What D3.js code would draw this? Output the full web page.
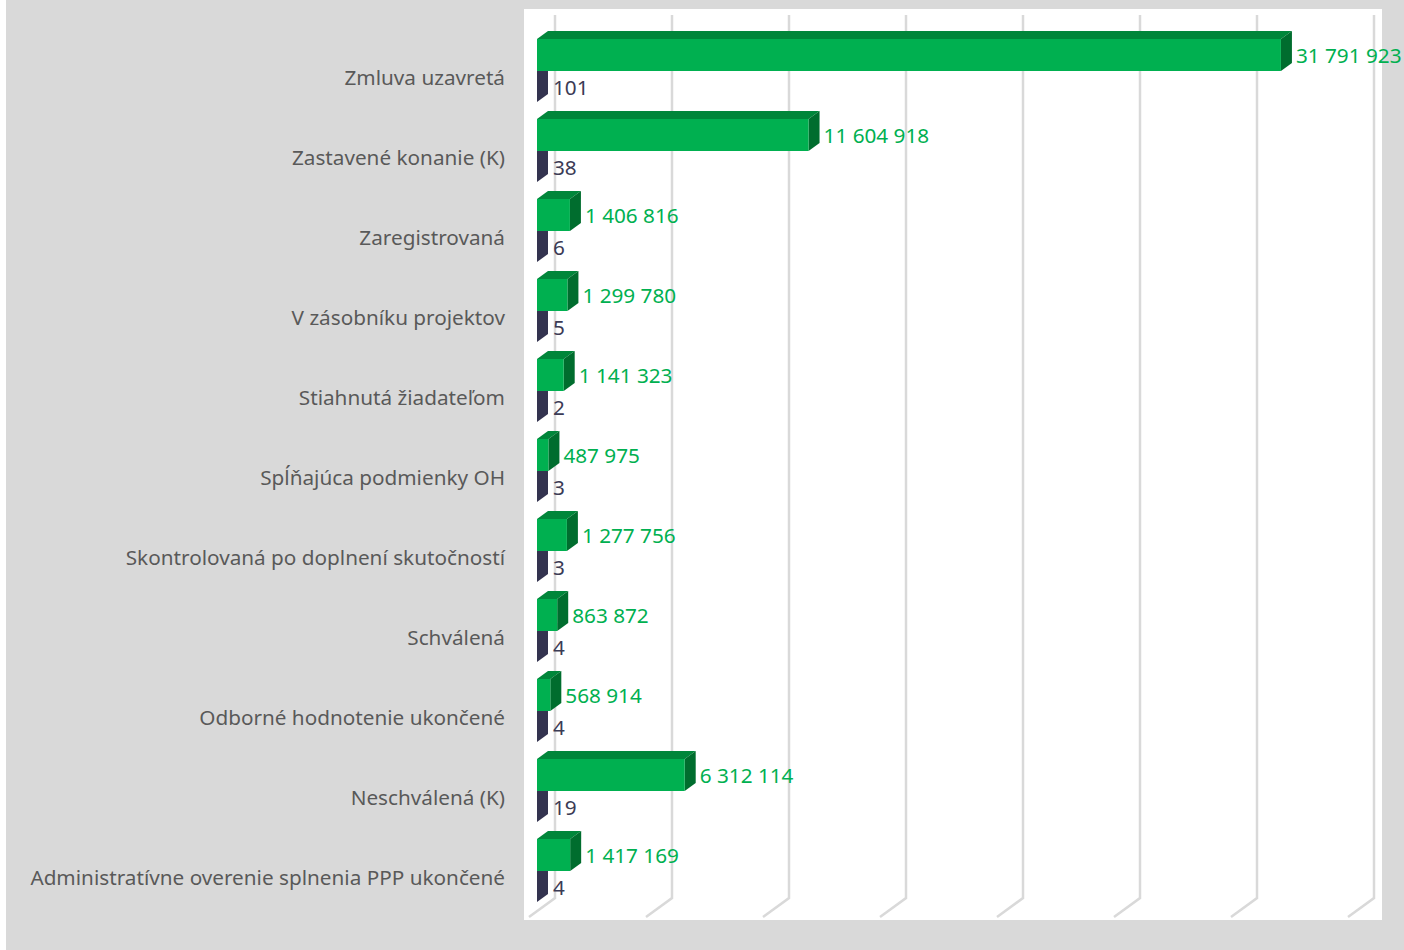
<!DOCTYPE html>
<html>
<head>
<meta charset="utf-8">
<script src="https://cdn.jsdelivr.net/npm/d3@7"></script>
<style>
  html, body { margin: 0; padding: 0; background: #ffffff; }
  svg { display: block; }
</style>
</head>
<body>
<svg id="chart"></svg>
<script>
// data
const categories = [
  "Zmluva uzavretá",
  "Zastavené konanie (K)",
  "Zaregistrovaná",
  "V zásobníku projektov",
  "Stiahnutá žiadateľom",
  "Spĺňajúca podmienky OH",
  "Skontrolovaná po doplnení skutočností",
  "Schválená",
  "Odborné hodnotenie ukončené",
  "Neschválená (K)",
  "Administratívne overenie splnenia PPP ukončené"
]
const amounts = [31791923, 11604918, 1406816, 1299780, 1141323, 487975, 1277756, 863872, 568914, 6312114, 1417169]
const counts = [101, 38, 6, 5, 2, 3, 3, 4, 4, 19, 4]
const gridValues = [0, 5e6, 10e6, 15e6, 20e6, 25e6, 30e6, 35e6]

// sizes
const W = 1404, H = 950
const wallX = 555      // back wall zero
const barX = 537       // bar front zero
const depthX = 11, depthY = 8
const font = "'Noto Sans', 'Open Sans', sans-serif"

const svg = d3.select("#chart").attr("width", W).attr("height", H)

svg.append("rect").attr("x", 0).attr("y", 0).attr("width", W).attr("height", H).attr("fill", "#ffffff")
svg.append("rect").attr("x", 6).attr("y", 0).attr("width", W - 6).attr("height", H).attr("fill", "#d9d9d9")
svg.append("rect").attr("x", 524).attr("y", 9).attr("width", 858).attr("height", 911).attr("fill", "#ffffff")

const x = d3.scaleLinear().domain([0, 35e6]).range([0, 819])
const y = d3.scaleBand().domain(categories).range([38, 918])

const fmt = d3.formatLocale({ decimal: ",", thousands: " ", grouping: [3], currency: ["", ""] }).format(",d")

// grid: back wall + floor
const grid = svg.append("g")
grid.selectAll("path")
  .data(gridValues)
  .join("path")
  .attr("d", d => {
    const gx = wallX + x(d)
    return `M${gx},15 L${gx},898 L${gx - 26},917`
  })
  .attr("fill", "none")
  .attr("stroke", "#d9d9d9")
  .attr("stroke-width", 2.5)

// font size fit to the longest label (Calibri in the original)
const probe = svg.append("text").style("font-family", font).style("font-size", "24px")
  .text(categories[categories.length - 1])
const probeW = probe.node().getComputedTextLength()
probe.remove()
const fs = 24 * 475 / probeW

// navy bars (count)
const navy = svg.append("g")
categories.forEach((c, i) => {
  const cy = y(c) + y.bandwidth() / 2
  const x0 = barX, x1 = barX + x(counts[i])
  const t = cy - 7, b = cy + 24
  // side face
  navy.append("path")
    .attr("d", `M${x1},${t} L${x1 + depthX},${t - depthY} L${x1 + depthX},${b - depthY} L${x1},${b} Z`)
    .attr("fill", "#33334f")
  navy.append("rect").attr("x", x0).attr("y", t).attr("width", x1 - x0).attr("height", b - t).attr("fill", "#3a3a5c")
})

// green bars (amount)
const green = svg.append("g")
categories.forEach((c, i) => {
  const cy = y(c) + y.bandwidth() / 2
  const x0 = barX, x1 = barX + x(amounts[i])
  const t = cy - 39, b = cy - 7
  green.append("path")
    .attr("d", `M${x0},${t} L${x0 + depthX},${t - depthY} L${x1 + depthX},${t - depthY} L${x1},${t} Z`)
    .attr("fill", "#00863a")
  green.append("path")
    .attr("d", `M${x1},${t} L${x1 + depthX},${t - depthY} L${x1 + depthX},${b - depthY} L${x1},${b} Z`)
    .attr("fill", "#006d2e")
  green.append("rect").attr("x", x0).attr("y", t).attr("width", x1 - x0).attr("height", b - t).attr("fill", "#00b050")
})

// value labels
svg.append("g").selectAll("text")
  .data(categories)
  .join("text")
  .attr("x", (d, i) => barX + x(amounts[i]) + depthX + 4)
  .attr("y", d => y(d) + y.bandwidth() / 2 - 22)
  .attr("dy", "0.35em")
  .style("font-family", font)
  .style("font-size", fs + "px")
  .attr("fill", "#00b050")
  .text((d, i) => fmt(amounts[i]))

svg.append("g").selectAll("text")
  .data(categories)
  .join("text")
  .attr("x", (d, i) => barX + x(counts[i]) + depthX + 5)
  .attr("y", d => y(d) + y.bandwidth() / 2 + 10)
  .attr("dy", "0.35em")
  .style("font-family", font)
  .style("font-size", fs + "px")
  .attr("fill", "#3b3b55")
  .text((d, i) => fmt(counts[i]))

// category labels
svg.append("g").selectAll("text")
  .data(categories)
  .join("text")
  .attr("x", 505)
  .attr("y", d => y(d) + y.bandwidth() / 2)
  .attr("dy", "0.35em")
  .attr("text-anchor", "end")
  .style("font-family", font)
  .style("font-size", fs + "px")
  .attr("fill", "#595959")
  .text(d => d)
</script>
</body>
</html>
